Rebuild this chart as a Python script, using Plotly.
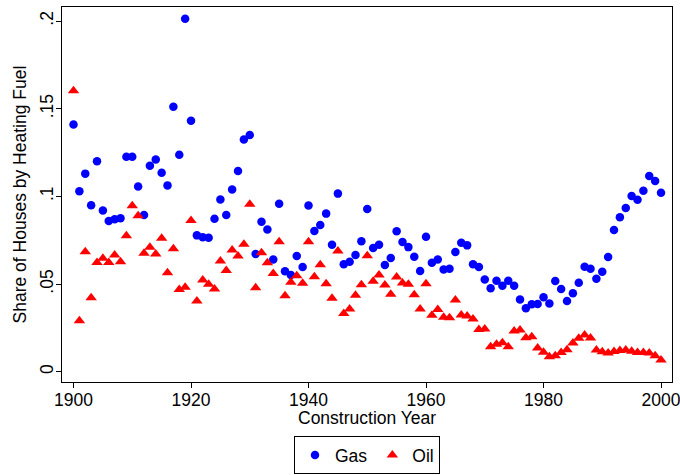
import plotly.graph_objects as go

# Construction years and share of houses heated by each fuel
years = list(range(1900, 2001))

gas_share = [
    0.141, 0.103, 0.113, 0.095, 0.120, 0.092, 0.086, 0.087, 0.0875, 0.1226,
    0.1226, 0.1057, 0.0894, 0.1175, 0.1211, 0.1135, 0.1063, 0.1511, 0.1238, 0.2013,
    0.1432, 0.0778, 0.0767, 0.0765, 0.0873, 0.0983, 0.0894, 0.104, 0.1145, 0.1325,
    0.135, 0.0672, 0.0856, 0.0812, 0.0641, 0.0958, 0.0573, 0.0552, 0.066, 0.0598,
    0.0948, 0.0803, 0.0837, 0.0902, 0.0725, 0.1016, 0.0613, 0.0628, 0.0666, 0.0744,
    0.0928, 0.0706, 0.0725, 0.0609, 0.0649, 0.0801, 0.074, 0.0711, 0.0656, 0.0575,
    0.077, 0.0622, 0.0641, 0.0584, 0.0588, 0.0683, 0.0736, 0.0721, 0.0613, 0.0598,
    0.0527, 0.0476, 0.0519, 0.0491, 0.0519, 0.0491, 0.0413, 0.0362, 0.0385, 0.0387,
    0.0425, 0.039, 0.0518, 0.0472, 0.0404, 0.0448, 0.0508, 0.0599, 0.0588, 0.0531,
    0.0571, 0.0655, 0.0808, 0.0881, 0.0934, 0.1002, 0.0981, 0.1033, 0.1116, 0.1088,
    0.1021,
]

oil_share = [
    0.1603, 0.0291, 0.0685, 0.0422, 0.0624, 0.0647, 0.0624, 0.0666, 0.0628, 0.0776,
    0.0947, 0.089, 0.0676, 0.071, 0.0672, 0.0761, 0.0565, 0.0702, 0.047, 0.0482,
    0.0863, 0.0404, 0.0523, 0.0499, 0.0472, 0.0632, 0.0577, 0.0694, 0.066, 0.0727,
    0.0955, 0.048, 0.0679, 0.0622, 0.0561, 0.0742, 0.0434, 0.051, 0.0548, 0.0505,
    0.0741, 0.0542, 0.0611, 0.0502, 0.0419, 0.0689, 0.0333, 0.0358, 0.0436, 0.0497,
    0.0662, 0.0516, 0.0552, 0.0495, 0.0442, 0.054, 0.0506, 0.0499, 0.044, 0.0358,
    0.0502, 0.0322, 0.0356, 0.0311, 0.0309, 0.0409, 0.0324, 0.0318, 0.0301, 0.0242,
    0.0244, 0.0143, 0.0157, 0.0166, 0.0143, 0.0233, 0.0238, 0.0194, 0.02, 0.0136,
    0.0112, 0.0086, 0.0092, 0.011, 0.0126, 0.0165, 0.0192, 0.021, 0.0193, 0.0124,
    0.0115, 0.0108, 0.0116, 0.0122, 0.0125, 0.0118, 0.011, 0.011, 0.0108, 0.0092,
    0.0068,
]

x_ticks = [1900, 1920, 1940, 1960, 1980, 2000]
y_ticks = [0, 0.05, 0.1, 0.15, 0.2]
y_tick_labels = ["0", ".05", ".1", ".15", ".2"]

FONT = "Liberation Sans, Arial, sans-serif"
FS = 17.5
TEXT = dict(family=FONT, size=FS, color="black")

fig = go.Figure()
fig.add_trace(go.Scatter(
    x=years, y=gas_share, mode="markers", name="Gas",
    marker=dict(symbol="circle", size=8.5, color="#0000ff", line=dict(width=0)),
))
fig.add_trace(go.Scatter(
    x=years, y=oil_share, mode="markers", name="Oil",
    marker=dict(symbol="triangle-up", size=10, color="#ff0000", line=dict(width=0)),
))

axis_common = dict(
    showline=True, linecolor="black", linewidth=1, mirror=True,
    showgrid=False, zeroline=False, automargin=False,
    ticks="outside", ticklen=5, tickcolor="black", tickwidth=1,
    tickfont=TEXT, ticklabeloverflow="allow",
)

fig.update_xaxes(
    range=[1898.04, 2001.87], tickvals=x_ticks, ticklabelstandoff=-3,
    **axis_common,
)
fig.update_yaxes(
    range=[-0.0058, 0.208], tickvals=y_ticks, ticktext=y_tick_labels, tickangle=-90,
    ticklabelstandoff=-4,
    **axis_common,
)

# Axis titles
fig.add_annotation(
    text="Construction Year", xref="paper", yref="paper",
    x=0.5, y=-0.096, xanchor="center", yanchor="middle",
    showarrow=False, font=TEXT,
)
fig.add_annotation(
    text="Share of Houses by Heating Fuel", xref="paper", yref="paper",
    x=-0.0689, y=0.5, xanchor="center", yanchor="middle", textangle=-90,
    showarrow=False, font=TEXT,
)

fig.update_layout(
    width=680, height=475,
    margin=dict(l=62, r=8, t=7, b=93, autoexpand=False),
    paper_bgcolor="white", plot_bgcolor="white",
    font=TEXT,
    showlegend=True,
    legend=dict(
        orientation="h", x=0.5, xanchor="center", y=-0.1947, yanchor="middle",
        bordercolor="black", borderwidth=1, bgcolor="white",
        font=TEXT, itemwidth=30, tracegroupgap=0,
    ),
)

fig.write_html("out.html")
